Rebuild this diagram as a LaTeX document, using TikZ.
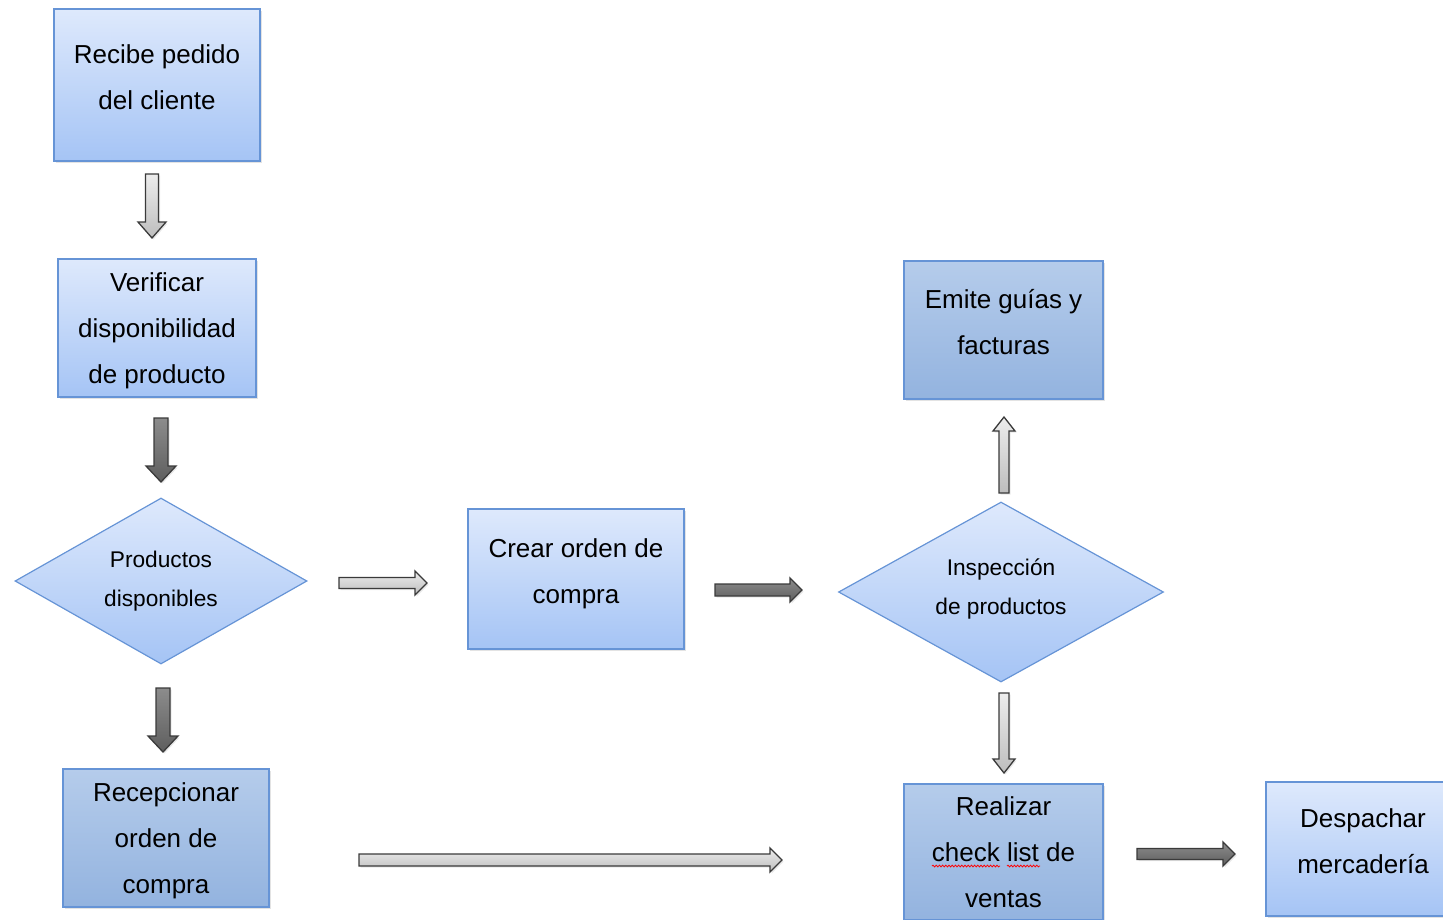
\documentclass[tikz,border=0pt]{standalone}
\usepackage{fontspec}
\setmainfont{Liberation Sans}
\usetikzlibrary{shapes.geometric,calc,shadows,decorations.pathmorphing}

\definecolor{boxtop}{HTML}{DEE9FC}
\definecolor{boxbot}{HTML}{A5C4F5}
\definecolor{steeltop}{HTML}{B5CCEB}
\definecolor{steelbot}{HTML}{93B3DF}
\definecolor{boxedge}{HTML}{6694D6}
\definecolor{arrowedge}{HTML}{3A3A3A}
\definecolor{lighttop}{HTML}{EDEDED}
\definecolor{lightbot}{HTML}{BDBDBD}
\definecolor{darktop}{HTML}{8C8C8C}
\definecolor{darkbot}{HTML}{5E5E5E}

\tikzset{
  softshadow/.style={drop shadow={opacity=0.22, shadow xshift=2pt, shadow yshift=-2pt}},
  procbox/.style={rectangle, draw=boxedge, line width=1.3pt, top color=boxtop, bottom color=boxbot,
    softshadow, align=center, inner sep=0pt, font=\fontsize{26}{46}\selectfont},
  steelbox/.style={procbox, top color=steeltop, bottom color=steelbot},
  twoline/.style={text depth=16pt},
  threeline/.style={text height=117pt},
  decision/.style={diamond, aspect=1.8, draw=boxedge, line width=1.2pt, top color=boxtop, bottom color=boxbot,
    align=center, inner sep=0pt, font=\fontsize{22.7}{39}\selectfont},
  lightarrow/.style={draw=arrowedge, line width=1.3pt, line join=miter, top color=lighttop, bottom color=lightbot,
    drop shadow={opacity=0.18, shadow xshift=1.5pt, shadow yshift=-1.5pt}},
  darkarrow/.style={draw=arrowedge, line width=1.3pt, line join=miter, top color=darktop, bottom color=darkbot,
    drop shadow={opacity=0.18, shadow xshift=1.5pt, shadow yshift=-1.5pt}},
  spell/.style={draw=red, line width=0.8pt, decorate, decoration={snake, amplitude=0.9pt, segment length=3.2pt}}
}

% block arrow from #1 to #2: half shaft width #3, half head width #4, head length #5, style #6
\newcommand\blockarrow[6]{%
  \coordinate (headbase) at ($(#2)!#5!(#1)$);
  \path[#6] ($(#1)!#3!-90:(#2)$) -- ($(headbase)!#3!-90:(#2)$) -- ($(headbase)!#4!-90:(#2)$)
    -- (#2) -- ($(headbase)!#4!90:(#2)$) -- ($(headbase)!#3!90:(#2)$) -- ($(#1)!#3!90:(#2)$) -- cycle;
}

\begin{document}
\begin{tikzpicture}[x=1pt,y=-1pt]
\useasboundingbox (0,0) rectangle (1443,919);
\clip (0,0) rectangle (1443,919);

% process boxes
\node[procbox, twoline, minimum width=206, minimum height=152] (recibe) at (157,85) {Recibe pedido\\del cliente};
\node[procbox, threeline, minimum width=198, minimum height=138] (verificar) at (157,328) {Verificar\\disponibilidad\\de producto};
\node[procbox, twoline, minimum width=216, minimum height=140] (crear) at (576,579) {Crear orden de\\compra};
\node[steelbox, twoline, minimum width=199, minimum height=138] (emite) at (1003.5,330) {Emite guías y\\facturas};
\node[steelbox, threeline, minimum width=206, minimum height=138] (recep) at (166,838) {Recepcionar\\orden de\\compra};
\node[steelbox, minimum width=199, minimum height=136] (realizar) at (1003.5,852) {Realizar\\check list de\\ventas};
\node[procbox, twoline, minimum width=194, minimum height=134] (despachar) at (1363,849) {Despachar\\mercadería};

% decisions
\node[decision, minimum width=292, minimum height=166] (prod) at (161,581) {Productos\\disponibles};
\node[decision, text depth=11pt, minimum width=325, minimum height=180] (insp) at (1001,592) {Inspección\\de productos};

% spell-check marks under the checklist words
\coordinate (w1a) at (932,866); \coordinate (w1b) at (1000,866);
\coordinate (w2a) at (1007,866); \coordinate (w2b) at (1040,866);
\draw[spell] (w1a) -- (w1b);
\draw[spell] (w2a) -- (w2b);

% arrow end points
\coordinate (a1s) at (152,174);  \coordinate (a1e) at (152,238);
\coordinate (a2s) at (161,418);  \coordinate (a2e) at (161,482);
\coordinate (a3s) at (339,583);  \coordinate (a3e) at (427,583);
\coordinate (a4s) at (715,590);  \coordinate (a4e) at (802,590);
\coordinate (a5s) at (163,688);  \coordinate (a5e) at (163,752);
\coordinate (a6s) at (1004,493); \coordinate (a6e) at (1004,417);
\coordinate (a7s) at (1004,693); \coordinate (a7e) at (1004,773);
\coordinate (a8s) at (359,860);  \coordinate (a8e) at (782,860);
\coordinate (a9s) at (1137,854); \coordinate (a9e) at (1235,854);

\blockarrow{a1s}{a1e}{6.5pt}{14pt}{16pt}{lightarrow}
\blockarrow{a2s}{a2e}{7pt}{15pt}{16pt}{darkarrow}
\blockarrow{a3s}{a3e}{5.5pt}{12pt}{12pt}{lightarrow}
\blockarrow{a4s}{a4e}{6pt}{12pt}{12pt}{darkarrow}
\blockarrow{a5s}{a5e}{7pt}{15pt}{16pt}{darkarrow}
\blockarrow{a6s}{a6e}{5pt}{11pt}{14pt}{lightarrow}
\blockarrow{a7s}{a7e}{5pt}{11pt}{14pt}{lightarrow}
\blockarrow{a8s}{a8e}{6pt}{12pt}{12pt}{lightarrow}
\blockarrow{a9s}{a9e}{5.5pt}{12pt}{12pt}{darkarrow}
\end{tikzpicture}
\end{document}
